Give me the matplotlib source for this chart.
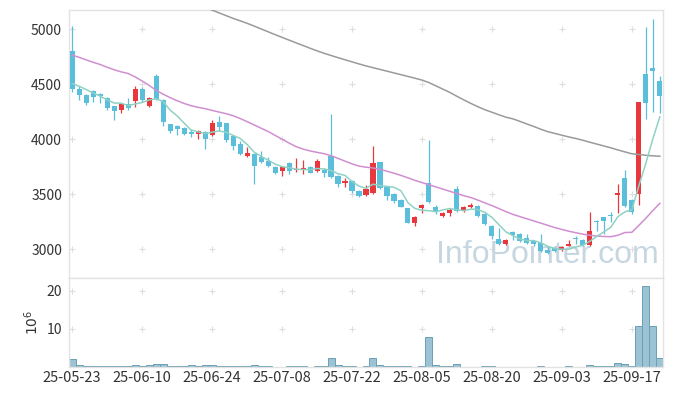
import numpy as np
import pandas as pd
import matplotlib.pyplot as plt

plt.rcParams['font.family'] = ['Noto Sans CJK KR', 'DejaVu Sans']

# trading days (KRX holidays 06-03, 06-06, 08-15 removed)
dates = pd.bdate_range('2025-05-23', '2025-09-23')
dates = dates.drop(pd.to_datetime(['2025-06-03', '2025-06-06', '2025-08-15']))

opens = [4800, 4461, 4406, 4443, 4415, 4378, 4299, 4262, 4323, 4347,
         4461, 4302, 4573, 4360, 4134, 4119, 4101, 4062, 4043, 4062,
         4037, 4152, 4143, 4028, 3952, 3845, 3869, 3836, 3799, 3751,
         3708, 3785, 3720, 3720, 3751, 3708, 3723, 3848, 3666, 3605,
         3622, 3531, 3492, 3511, 3788, 3561, 3501, 3449, 3370, 3241,
         3373, 3599, 3385, 3303, 3324, 3547, 3355, 3379, 3394, 3318,
         3211, 3090, 3050, 3157, 3136, 3096, 3075, 3054, 2992, 3008,
         2989, 3029, 3092, 3081, 3035, 3251, 3293, 3305, 3491, 3647,
         3446, 3501, 4591, 4646, 4530]
highs = [5030, 4482, 4415, 4452, 4424, 4387, 4305, 4325, 4378, 4488,
         4475, 4380, 4590, 4370, 4140, 4125, 4110, 4090, 4080, 4070,
         4170, 4214, 4150, 4035, 3980, 3927, 3875, 3890, 3840, 3760,
         3760, 3790, 3826, 3808, 3760, 3820, 3740, 4226, 3670, 3645,
         3630, 3540, 3580, 3942, 3795, 3575, 3510, 3455, 3375, 3300,
         3410, 3994, 3400, 3335, 3370, 3570, 3395, 3420, 3400, 3325,
         3215, 3190, 3090, 3165, 3145, 3140, 3080, 3140, 3030, 3015,
         3030, 3085, 3120, 3090, 3333, 3260, 3293, 3340, 3590, 3715,
         3455, 4338, 5018, 5095, 4578]
lows = [4430, 4354, 4315, 4341, 4332, 4268, 4171, 4240, 4262, 4294,
        4340, 4290, 4360, 4120, 4060, 4040, 4040, 4020, 4000, 3915,
        4030, 4070, 3970, 3900, 3855, 3840, 3592, 3785, 3750, 3685,
        3665, 3680, 3700, 3680, 3690, 3700, 3660, 3650, 3560, 3562,
        3510, 3470, 3485, 3505, 3550, 3450, 3420, 3380, 3235, 3213,
        3325, 3420, 3320, 3295, 3300, 3340, 3340, 3370, 3295, 3215,
        3090, 3040, 3040, 3085, 3060, 3050, 3025, 2975, 2955, 2975,
        2980, 3025, 3050, 3030, 3030, 3160, 3141, 3250, 3325, 3380,
        3320, 3400, 4187, 4243, 4234]
closes = [4455, 4400, 4329, 4384, 4393, 4283, 4256, 4317, 4283, 4461,
          4354, 4372, 4369, 4155, 4073, 4089, 4046, 4050, 4073, 4003,
          4143, 4107, 3988, 3936, 3863, 3870, 3760, 3790, 3760, 3690,
          3751, 3708, 3726, 3741, 3690, 3799, 3690, 3653, 3592, 3615,
          3525, 3479, 3547, 3782, 3556, 3485, 3440, 3385, 3241, 3293,
          3403, 3425, 3333, 3324, 3357, 3348, 3385, 3403, 3303, 3227,
          3120, 3050, 3081, 3127, 3075, 3054, 3044, 2983, 2962, 2983,
          3020, 3044, 3088, 3035, 3166, 3242, 3251, 3300, 3509, 3388,
          3339, 4338, 4329, 4622, 4393]

# volume, millions of shares
volume = [2.1, 0.5, 0.15, 0.15, 0.15, 0.15, 0.15, 0.15, 0.15, 0.5,
          0.15, 0.5, 0.8, 0.8, 0.15, 0.15, 0.15, 0.5, 0.15, 0.5,
          0.5, 0.15, 0.15, 0.15, 0.15, 0.15, 0.5, 0.15, 0.15, 0.0,
          0.0, 0.15, 0.15, 0.15, 0.0, 0.15, 0.15, 2.4, 0.5, 0.15,
          0.15, 0.0, 0.15, 2.4, 0.5, 0.15, 0.15, 0.15, 0.15, 0.0,
          0.15, 7.9, 0.5, 0.15, 0.15, 0.8, 0.0, 0.0, 0.0, 0.15,
          0.15, 0.0, 0.0, 0.0, 0.0, 0.0, 0.0, 0.15, 0.0, 0.0,
          0.0, 0.15, 0.0, 0.0, 0.5, 0.15, 0.15, 0.15, 1.05, 0.8,
          0.2, 10.7, 21.4, 10.7, 2.4]

# moving averages
ma5 = [4506, 4482, 4452, 4421, 4392, 4358, 4329, 4327, 4306, 4320,
       4334, 4357, 4368, 4342, 4265, 4212, 4146, 4083, 4066, 4052,
       4063, 4075, 4063, 4035, 4007, 3953, 3883, 3844, 3809, 3774,
       3750, 3740, 3727, 3723, 3723, 3733, 3729, 3715, 3685, 3670,
       3615, 3573, 3552, 3590, 3578, 3570, 3562, 3530, 3421, 3369,
       3352, 3349, 3339, 3356, 3368, 3357, 3349, 3363, 3359, 3333,
       3288, 3221, 3156, 3121, 3091, 3077, 3076, 3057, 3024, 3005,
       2998, 2998, 3019, 3034, 3071, 3115, 3156, 3199, 3294, 3338,
       3357, 3575, 3781, 4003, 4204]
ma20 = [4765, 4745, 4722, 4700, 4680, 4655, 4632, 4613, 4598, 4567,
        4530, 4490, 4445, 4410, 4378, 4350, 4325, 4305, 4290, 4278,
        4262, 4247, 4232, 4214, 4188, 4160, 4130, 4100, 4070, 4035,
        4000, 3965, 3932, 3910, 3893, 3880, 3868, 3850, 3825, 3800,
        3775, 3755, 3745, 3738, 3725, 3708, 3690, 3670, 3648, 3625,
        3605, 3585, 3565, 3545, 3525, 3505, 3485, 3468, 3445, 3420,
        3395, 3368, 3340, 3315, 3295, 3275, 3255, 3235, 3215, 3195,
        3178, 3162, 3148, 3135, 3125, 3118, 3114, 3112, 3125, 3150,
        3152, 3215, 3280, 3350, 3416]
ma60 = [np.nan] * 19 + [
        5200, 5175, 5150, 5125, 5100, 5078, 5055, 5030, 5004, 4978,
        4952, 4927, 4902, 4877, 4853, 4828, 4804, 4782, 4762, 4742,
        4723, 4704, 4685, 4667, 4651, 4635, 4619, 4603, 4587, 4571,
        4555, 4538, 4515, 4485, 4455, 4425, 4390, 4357, 4325, 4295,
        4268, 4245, 4222, 4200, 4185, 4162, 4138, 4115, 4090, 4068,
        4052, 4036, 4020, 4006, 3990, 3972, 3955, 3938, 3921, 3902,
        3884, 3867, 3860, 3853, 3848, 3845]

price_ticks = [3000, 3500, 4000, 4500, 5000]
vol_ticks = [10, 20]

UP = '#e8383d'
DOWN = '#5bbfdc'
GRID = '#dedede'
SPINE = '#e3e3e3'
TXT = '#333333'

x = np.arange(len(dates))
o = np.array(opens); c = np.array(closes)
h = np.array(highs); l = np.array(lows)
cols = np.where(c >= o, UP, DOWN)

fig = plt.figure(figsize=(6.73, 3.96), dpi=100)
ax = fig.add_axes([69/673, 1 - 278/396, 594/673, 268/396])
axv = fig.add_axes([69/673, 1 - 367/396, 594/673, 89/396], sharex=ax)

# candles
ax.vlines(x, l, h, colors=cols, lw=0.9, zorder=2)
body = np.maximum(np.abs(c - o), 9)
ax.bar(x, body, bottom=np.minimum(o, c), width=0.72, color=cols,
       linewidth=0, zorder=3)

# moving averages
ax.plot(x, ma60, color='#9a9a9a', lw=1.1, zorder=4)
ax.plot(x, ma20, color='#d08fd0', lw=1.1, zorder=4)
ax.plot(x, ma5, color='#8fd2c4', lw=1.1, zorder=4)

# volume
axv.bar(x, volume, width=1.0, color='#9cc3d3', edgecolor='#6b9fb5',
        linewidth=0.7, zorder=2)

xt = list(range(0, len(dates), 10))
for a, yt in ((ax, price_ticks), (axv, vol_ticks)):
    gx, gy = np.meshgrid(xt, yt)
    a.scatter(gx.ravel(), gy.ravel(), marker='+', s=16, color=GRID,
              linewidths=0.8, zorder=0)
    a.set_yticks(yt)
    a.tick_params(length=0, labelsize=10, colors=TXT, pad=5)
    for s in a.spines.values():
        s.set_color(SPINE)
        s.set_linewidth(1)

ax.set_ylim(2736, 5176)
axv.set_ylim(0, 23.4)
ax.set_xlim(-0.45, len(dates) - 1 + 0.45)
axv.set_xticks(xt)
axv.set_xticklabels([dates[i].strftime('%y-%m-%d') for i in xt])
axv.tick_params(axis='x', pad=3, labelsize=10.5)
plt.setp(ax.get_xticklabels(), visible=False)
axv.set_ylabel('$10^6$', fontsize=10, color=TXT, labelpad=4)

ax.text(0.805, 0.085, 'InfoPointer.com', transform=ax.transAxes,
        ha='center', va='center', fontsize=23, color='#c6d7e1',
        family=['Liberation Sans', 'DejaVu Sans'], zorder=1)

fig.savefig('out.png', dpi=100)
